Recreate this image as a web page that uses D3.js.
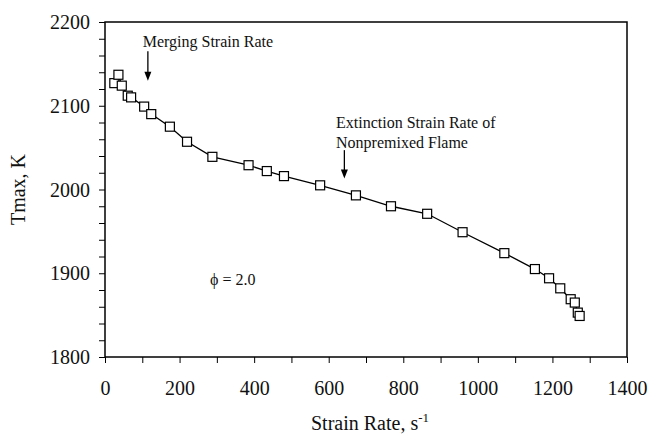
<!DOCTYPE html>
<html>
<head>
<meta charset="utf-8">
<script src="https://cdn.jsdelivr.net/npm/d3@7"></script>
<style>
  html, body { margin: 0; padding: 0; background: #fff; }
  svg { display: block; }
  text { font-family: "Liberation Serif", "DejaVu Serif", serif; fill: #111; }
</style>
</head>
<body>
<svg id="chart" width="649" height="434"></svg>
<script>
// ---- data ----
const strainRate = [25, 36, 45, 61, 70, 105, 124, 174, 220, 288, 385, 434, 480, 577, 673, 767, 864, 959, 1071, 1153, 1191, 1221, 1249, 1260, 1268, 1273];
const tmax       = [2127, 2137, 2124, 2112, 2110, 2099, 2090, 2075, 2057, 2039, 2029, 2022, 2016, 2005, 1993, 1980, 1971, 1949, 1924, 1905, 1894, 1882, 1869, 1865, 1853, 1849];
const xTicks = [0, 200, 400, 600, 800, 1000, 1200, 1400];
const yTicks = [1800, 1900, 2000, 2100, 2200];
const xDomain = [0, 1400];
const yDomain = [1800, 2200];
const annotations = [
  { lines: ["Merging Strain Rate"], arrowX: 115, arrowFrom: 2165, arrowTo: 2130 },
  { lines: ["Extinction Strain Rate of", "Nonpremixed Flame"], arrowX: 642, arrowFrom: 2047, arrowTo: 2013 }
];
const phiLabel = "\u03D5 = 2.0";

// ---- layout ----
const FONT = '"Liberation Serif", "DejaVu Serif", serif';
const margin = { left: 105, top: 22, right: 22, bottom: 77 };
const W = 649, H = 434;
const iw = W - margin.left - margin.right;
const ih = H - margin.top - margin.bottom;

const svg = d3.select("#chart");
const g = svg.append("g").attr("transform", `translate(${margin.left},${margin.top})`);

const x = d3.scaleLinear().domain(xDomain).range([0, iw]);
const y = d3.scaleLinear().domain(yDomain).range([ih, 0]);

// frame
g.append("rect").attr("x", 0).attr("y", 0).attr("width", iw).attr("height", ih)
  .attr("fill", "none").attr("stroke", "#000").attr("stroke-width", 1.5);

// x axis: ticks every 100, labels every 200
const xAxis = d3.axisBottom(x).tickValues(d3.range(0, 1401, 100)).tickSize(6)
  .tickFormat(d => xTicks.includes(d) ? d : "");
const gx = g.append("g").attr("transform", `translate(0,${ih})`).call(xAxis);
gx.attr("font-family", null);
gx.select(".domain").remove();
gx.selectAll(".tick line").attr("stroke", "#000").attr("stroke-width", 1);
gx.selectAll(".tick text").attr("y", 38).attr("dy", 0)
  .style("font-family", FONT).style("font-size", "20px").attr("fill", "#111");

// y axis: ticks every 20, labels every 100
const yAxis = d3.axisLeft(y).tickValues(d3.range(1800, 2201, 20)).tickSize(6)
  .tickFormat(d => yTicks.includes(d) ? d : "");
const gy = g.append("g").call(yAxis);
gy.attr("font-family", null);
gy.select(".domain").remove();
gy.selectAll(".tick line").attr("stroke", "#000").attr("stroke-width", 1);
gy.selectAll(".tick text").attr("x", -15).attr("dy", "0.33em")
  .style("font-family", FONT).style("font-size", "20px").attr("fill", "#111");

// axis titles
const xt = g.append("text").attr("x", iw / 2 + 4).attr("y", ih + 73)
  .attr("text-anchor", "middle").style("font-family", FONT).style("font-size", "20px");
xt.append("tspan").text("Strain Rate, s");
xt.append("tspan").attr("dy", -8).style("font-size", "13px").text("-1");

g.append("text").attr("transform", `translate(-80,${ih / 2}) rotate(-90)`)
  .attr("text-anchor", "middle").style("font-family", FONT).style("font-size", "20px").text("Tmax, K");

// line
const pts = strainRate.map((v, i) => [v, tmax[i]]);
g.append("path").datum(pts)
  .attr("fill", "none").attr("stroke", "#000").attr("stroke-width", 1.3)
  .attr("d", d3.line().x(d => x(d[0])).y(d => y(d[1])));

// squares
const s = 9;
g.selectAll("rect.pt").data(pts).enter().append("rect").attr("class", "pt")
  .attr("x", d => x(d[0]) - s / 2).attr("y", d => y(d[1]) - s / 2)
  .attr("width", s).attr("height", s)
  .attr("fill", "#fff").attr("stroke", "#000").attr("stroke-width", 1.2);

// annotations
const a0 = annotations[0];
g.append("text").attr("x", 142.7 - margin.left).attr("y", 47 - margin.top)
  .style("font-family", FONT).style("font-size", "16px").text(a0.lines[0]);
const a1 = annotations[1];
a1.lines.forEach((t, i) => {
  g.append("text").attr("x", 336 - margin.left).attr("y", 127.5 - margin.top + i * 20)
    .style("font-family", FONT).style("font-size", "16px").text(t);
});
annotations.forEach(a => {
  const ax = x(a.arrowX), y1 = y(a.arrowFrom), y2 = y(a.arrowTo);
  g.append("line").attr("x1", ax).attr("x2", ax).attr("y1", y1).attr("y2", y2 - 8)
    .attr("stroke", "#000").attr("stroke-width", 1.3);
  g.append("path").attr("d", `M${ax - 3.5},${y2 - 9} L${ax + 3.5},${y2 - 9} L${ax},${y2} Z`)
    .attr("fill", "#000");
});

// phi label
g.append("text").attr("x", 210 - margin.left).attr("y", 285 - margin.top)
  .style("font-family", FONT).style("font-size", "16px").text(phiLabel);
</script>
</body>
</html>
